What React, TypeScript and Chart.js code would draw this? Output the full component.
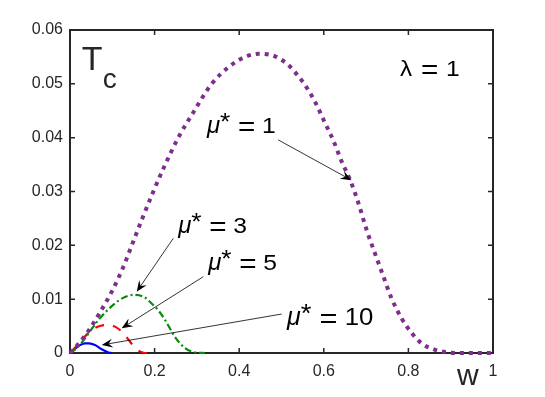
import React, { useEffect, useRef } from 'react';
import { Chart, registerables } from 'chart.js';

Chart.register(...registerables);

// ---- data ----
const W_MU1 = [0, 0.02, 0.04, 0.07, 0.10, 0.125, 0.146, 0.17, 0.197, 0.225, 0.256, 0.29, 0.335, 0.375, 0.414, 0.447, 0.485, 0.516, 0.54, 0.563, 0.583, 0.603, 0.622, 0.642, 0.662, 0.682, 0.701, 0.721, 0.741, 0.76, 0.784, 0.808, 0.831, 0.863, 0.894, 0.92, 0.95, 1.0];
const TC_MU1 = [0, 0.0017, 0.0037, 0.0074, 0.0116, 0.0158, 0.0200, 0.0248, 0.0300, 0.0350, 0.0400, 0.0445, 0.0500, 0.0531, 0.0550, 0.0556, 0.0551, 0.0535, 0.0514, 0.0489, 0.0461, 0.0427, 0.0396, 0.0356, 0.0322, 0.0278, 0.0229, 0.0185, 0.0142, 0.0102, 0.0064, 0.0037, 0.0018, 0.0006, 0.0001, 0, 0, 0];

const W_MU3 = [0, 0.02, 0.035, 0.067, 0.106, 0.13, 0.152, 0.175, 0.193, 0.21, 0.225, 0.248, 0.272, 0.296, 0.319];
const TC_MU3 = [0, 0.0012, 0.0027, 0.0061, 0.0092, 0.0104, 0.0108, 0.0104, 0.0092, 0.0078, 0.0061, 0.0030, 0.0009, 0.0001, 0];

const W_MU5 = [0, 0.02, 0.043, 0.06, 0.075, 0.09, 0.106, 0.122, 0.142, 0.154, 0.165, 0.177, 0.189];
const TC_MU5 = [0, 0.0017, 0.0037, 0.0047, 0.0051, 0.0052, 0.0049, 0.0040, 0.0021, 0.0009, 0.0003, 0, 0];

const W_MU10 = [0, 0.02, 0.035, 0.045, 0.059, 0.075, 0.091, 0.099];
const TC_MU10 = [0, 0.0013, 0.0018, 0.0018, 0.0015, 0.0007, 0.0001, 0];

const X_TICKS = [0, 0.2, 0.4, 0.6, 0.8, 1];
const X_TICK_LABELS = ['0', '0.2', '0.4', '0.6', '0.8', '1'];
const Y_TICKS = [0, 0.01, 0.02, 0.03, 0.04, 0.05, 0.06];
const Y_TICK_LABELS = ['0', '0.01', '0.02', '0.03', '0.04', '0.05', '0.06'];

// annotations (data coordinates)
const MU_VALUES = ['1', '3', '5', '10'];
const MU_TEXT_AT = [[0.324, 0.0409], [0.256, 0.0222], [0.327, 0.0154], [0.513, 0.0052]];
const ARROW_FROM = [[0.492, 0.0396], [0.2442, 0.0213], [0.3151, 0.01417], [0.5005, 0.00724]];
const ARROW_TO = [[0.6655, 0.0321], [0.1577, 0.01139], [0.1222, 0.00459], [0.075, 0.00149]];
const LAMBDA_TEXT = 'λ';
const LAMBDA_VALUE = '1';
const LAMBDA_AT = [0.780, 0.0514];
const Y_TITLE_AT = [0.028, 0.0526];
const X_TITLE_AT = 0.9149;

const FONT = '"Liberation Sans", Arial, Helvetica, sans-serif';
const INK = '#262626';

const pts = (w: number[], t: number[]) => w.map((x, i) => ({ x, y: t[i] }));

function txt(ctx: CanvasRenderingContext2D, s: string, x: number, y: number, font: string, sx = 1) {
  ctx.save();
  ctx.translate(x, y);
  ctx.scale(sx, 1);
  ctx.font = font;
  ctx.textAlign = 'left';
  ctx.textBaseline = 'alphabetic';
  ctx.fillText(s, 0, 0);
  ctx.restore();
}

function arrow(ctx: CanvasRenderingContext2D, x1: number, y1: number, x2: number, y2: number) {
  const a = Math.atan2(y2 - y1, x2 - x1);
  const c = Math.cos(a), s = Math.sin(a);
  const L = 11, HW = 4.5, N = 7;
  ctx.save();
  ctx.strokeStyle = '#000';
  ctx.fillStyle = '#000';
  ctx.lineWidth = 0.8;
  ctx.beginPath();
  ctx.moveTo(x1, y1);
  ctx.lineTo(x2 - N * c, y2 - N * s);
  ctx.stroke();
  ctx.beginPath();
  ctx.moveTo(x2, y2);
  ctx.lineTo(x2 - L * c - HW * s, y2 - L * s + HW * c);
  ctx.lineTo(x2 - N * c, y2 - N * s);
  ctx.lineTo(x2 - L * c + HW * s, y2 - L * s - HW * c);
  ctx.closePath();
  ctx.fill();
  ctx.restore();
}

const framePlugin = {
  id: 'frame',
  beforeDatasetsDraw(chart: any) {
    const { ctx, chartArea: ca, scales } = chart;
    const xs = scales.x, ys = scales.y;
    ctx.save();
    ctx.strokeStyle = INK;
    ctx.lineWidth = 2;
    ctx.strokeRect(ca.left, ca.top, ca.right - ca.left, ca.bottom - ca.top);
    ctx.lineWidth = 1.5;
    const tl = 5;
    ctx.beginPath();
    X_TICKS.forEach((v) => {
      const px = xs.getPixelForValue(v);
      ctx.moveTo(px, ca.bottom);
      ctx.lineTo(px, ca.bottom - tl);
      ctx.moveTo(px, ca.top);
      ctx.lineTo(px, ca.top + tl);
    });
    Y_TICKS.forEach((v) => {
      const py = ys.getPixelForValue(v);
      ctx.moveTo(ca.left, py);
      ctx.lineTo(ca.left + tl, py);
      ctx.moveTo(ca.right, py);
      ctx.lineTo(ca.right - tl, py);
    });
    ctx.stroke();
    ctx.restore();
  },
  afterDatasetsDraw(chart: any) {
    const { ctx, chartArea: ca, scales } = chart;
    const xs = scales.x, ys = scales.y;
    ctx.save();
    ctx.fillStyle = '#000';
    // arrows
    ARROW_FROM.forEach((f, i) => {
      const t = ARROW_TO[i];
      arrow(ctx, xs.getPixelForValue(f[0]), ys.getPixelForValue(f[1]), xs.getPixelForValue(t[0]), ys.getPixelForValue(t[1]));
    });
    // mu labels
    MU_VALUES.forEach((num, i) => {
      const x0 = xs.getPixelForValue(MU_TEXT_AT[i][0]);
      const y0 = ys.getPixelForValue(MU_TEXT_AT[i][1]);
      const big = num.length > 1 ? 1.05 : 1;
      txt(ctx, 'μ', x0, y0, `italic ${Math.round(24 * big)}px ${FONT}`, 1.0);
      txt(ctx, '*', x0 + 13 * big, y0 - 3, `${Math.round(24 * big)}px ${FONT}`, 1.1);
      txt(ctx, '=', x0 + 31 * big, y0 + 3, `${Math.round(27 * big)}px ${FONT}`, 1.1);
      txt(ctx, num, x0 + 55 * big, y0, `${Math.round(22 * big)}px ${FONT}`, 1.12);
    });
    // lambda
    {
      const x0 = xs.getPixelForValue(LAMBDA_AT[0]);
      const y0 = ys.getPixelForValue(LAMBDA_AT[1]);
      txt(ctx, LAMBDA_TEXT, x0, y0, `22px ${FONT}`, 1.1);
      txt(ctx, '=', x0 + 21, y0 + 3, `27px ${FONT}`, 1.1);
      txt(ctx, LAMBDA_VALUE, x0 + 46, y0, `22px ${FONT}`, 1.12);
    }
    // y title T_c
    {
      const x0 = xs.getPixelForValue(Y_TITLE_AT[0]);
      const y0 = ys.getPixelForValue(Y_TITLE_AT[1]);
      ctx.fillStyle = INK;
      txt(ctx, 'T', x0, y0, `34px ${FONT}`, 1);
      txt(ctx, 'c', x0 + 21, y0 + 18, `28px ${FONT}`, 1);
    }
    // x title w
    txt(ctx, 'w', xs.getPixelForValue(X_TITLE_AT), ca.bottom + 32, `30px ${FONT}`, 1);
    ctx.restore();
  },
};

export default function App() {
  const ref = useRef<HTMLCanvasElement | null>(null);
  useEffect(() => {
    const canvas = ref.current;
    if (!canvas) return;
    const common = { pointRadius: 0, pointHoverRadius: 0, cubicInterpolationMode: 'monotone', clip: 6, fill: false };
    const chart = new Chart(canvas, {
      type: 'line',
      data: {
        datasets: [
          { ...common, label: 'μ* = 1', data: pts(W_MU1, TC_MU1), borderColor: '#7E2F8E', borderWidth: 4, borderDash: [4, 5], borderCapStyle: 'butt' },
          { ...common, label: 'μ* = 3', data: pts(W_MU3, TC_MU3), borderColor: '#0A8A0A', borderWidth: 2.2, borderDash: [7, 3, 2, 3] },
          { ...common, label: 'μ* = 5', data: pts(W_MU5, TC_MU5), borderColor: '#FF0000', borderWidth: 2.2, borderDash: [9, 9] },
          { ...common, label: 'μ* = 10', data: pts(W_MU10, TC_MU10), borderColor: '#0000FF', borderWidth: 2.2 },
        ] as any,
      },
      options: {
        animation: false,
        responsive: false,
        devicePixelRatio: 1,
        parsing: false as any,
        layout: { padding: { top: 30, right: 52, bottom: 0, left: 0 } },
        plugins: { legend: { display: false }, tooltip: { enabled: false } },
        scales: {
          x: {
            type: 'linear',
            min: 0,
            max: 1,
            afterBuildTicks: (s: any) => { s.ticks = X_TICKS.map((v) => ({ value: v })); },
            afterFit: (s: any) => { s.height = 44; },
            grid: { display: false, drawTicks: false },
            border: { display: false },
            ticks: {
              autoSkip: false,
              maxRotation: 0,
              padding: 9,
              color: INK,
              font: { family: FONT, size: 16 },
              callback: (_v: any, i: number) => X_TICK_LABELS[i],
            },
          },
          y: {
            type: 'linear',
            min: 0,
            max: 0.06,
            afterBuildTicks: (s: any) => { s.ticks = Y_TICKS.map((v) => ({ value: v })); },
            afterFit: (s: any) => { s.width = 70; },
            grid: { display: false, drawTicks: false },
            border: { display: false },
            ticks: {
              autoSkip: false,
              padding: 7,
              color: INK,
              font: { family: FONT, size: 16 },
              callback: (_v: any, i: number) => Y_TICK_LABELS[i],
            },
          },
        },
      } as any,
      plugins: [framePlugin],
    });
    return () => chart.destroy();
  }, []);
  return (
    <div style={{ position: 'fixed', left: 0, top: 0, width: 545, height: 397, background: '#fff' }}>
      <canvas ref={ref} width={545} height={397} style={{ width: 545, height: 397, display: 'block' }} />
    </div>
  );
}
